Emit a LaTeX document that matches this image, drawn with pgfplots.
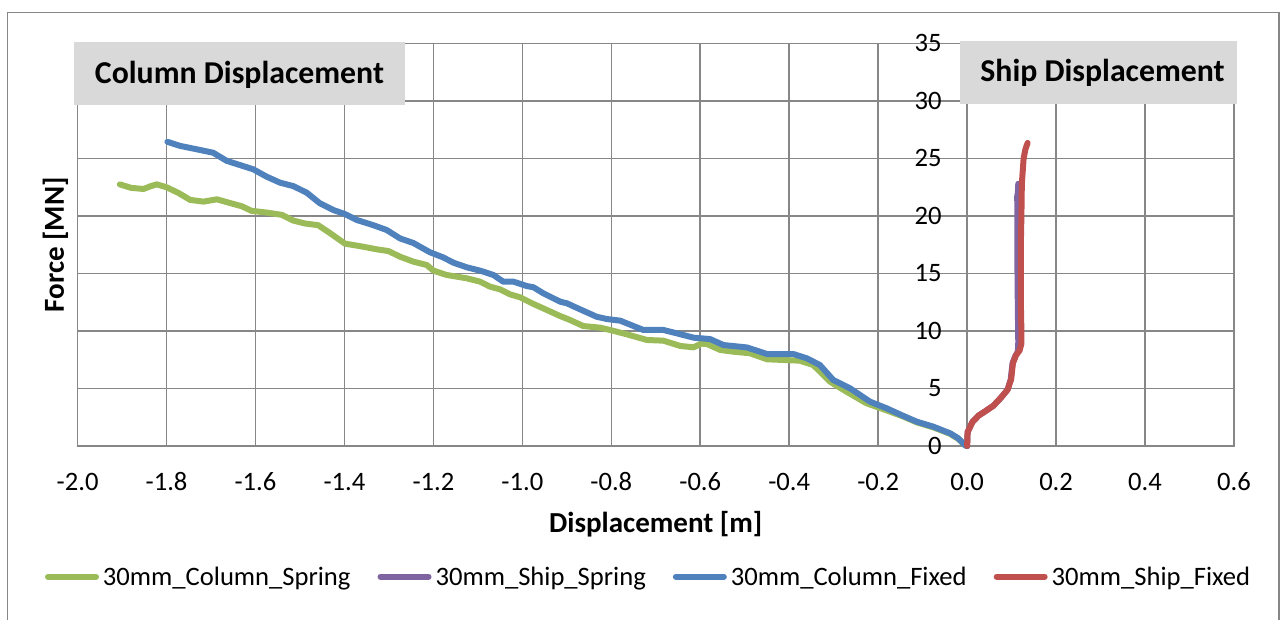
\documentclass[border=0pt]{standalone}
\usepackage{fontspec}
\setmainfont{Carlito}
\usepackage{pgfplots}
\pgfplotsset{compat=1.18}
\definecolor{cgreen}{HTML}{9BBB59}
\definecolor{cpurple}{HTML}{8064A2}
\definecolor{cblue}{HTML}{4F81BD}
\definecolor{cred}{HTML}{C0504D}
\definecolor{cgrid}{HTML}{878787}
\definecolor{cbox}{HTML}{D9D9D9}
\newcommand{\tickfont}{\fontsize{26.6pt}{32pt}\selectfont}
\newcommand{\labfont}{\fontsize{29pt}{34pt}\selectfont\bfseries}
\newcommand{\annfont}{\fontsize{31.8pt}{38pt}\selectfont\bfseries}
\begin{document}
\begin{tikzpicture}
\useasboundingbox (0,0) rectangle (1282pt,619pt);
\draw[cgrid, line width=1.6pt] (7.3pt,-10pt) rectangle (1279pt,606.3pt);
\begin{axis}[
  at={(77.6pt,173pt)}, anchor=south west, scale only axis,
  width=1156.4pt, height=402.5pt,
  xmin=-2, xmax=0.6, ymin=0, ymax=35,
  clip=false,
  xtick={-2,-1.8,-1.6,-1.4,-1.2,-1,-0.8,-0.6,-0.4,-0.2,0,0.2,0.4,0.6},
  xticklabels={-2.0,-1.8,-1.6,-1.4,-1.2,-1.0,-0.8,-0.6,-0.4,-0.2,0.0,0.2,0.4,0.6},
  ytick={0,5,10,15,20,25,30,35},
  yticklabels={0,5,10,15,20,25,30,35},
  grid=major,
  major grid style={cgrid, line width=1.6pt},
  axis line style={cgrid, line width=1.6pt},
  major tick length=0pt,
  tick label style={font=\tickfont, inner sep=0pt, text=black},
  xticklabel style={anchor=base, yshift=-44.7pt},
  yticklabel style={anchor=base east, xshift=864.1pt, yshift=-8.4pt},
  xlabel={Displacement [m]},
  xlabel style={font=\labfont, at={(axis description cs:0.5,-0.2154)}, anchor=base},
  ylabel={Force [MN]},
  ylabel style={font=\labfont, at={(axis description cs:-0.01176,0.5)}, anchor=base, rotate=0},
  every axis plot/.append style={line width=6pt, line cap=round, line join=round},
  legend columns=4,
  legend image code/.code={\draw[#1] (3pt,0pt) -- (51pt,0pt);},
  legend style={draw=none, fill=none, inner sep=0pt, outer sep=0pt,
    font=\tickfont,
    at={(axis description cs:-0.02820,-0.3247)}, anchor=west,
    nodes={inner sep=0pt},
    /tikz/every odd column/.append style={column sep=4pt},
    /tikz/every even column/.append style={column sep=27pt}},
]
\addplot[cgreen] coordinates {
(-1.905,22.75) (-1.880,22.45) (-1.852,22.35) (-1.835,22.6) (-1.822,22.75)
(-1.800,22.5) (-1.773,22.0) (-1.747,21.4) (-1.717,21.25) (-1.687,21.45)
(-1.650,21.05) (-1.631,20.85) (-1.609,20.45) (-1.575,20.3) (-1.541,20.1)
(-1.515,19.6) (-1.489,19.35) (-1.459,19.2) (-1.432,18.5) (-1.399,17.6)
(-1.361,17.35) (-1.327,17.1) (-1.301,16.95) (-1.275,16.46) (-1.245,16.03)
(-1.215,15.74) (-1.200,15.25) (-1.170,14.87) (-1.125,14.58) (-1.095,14.29)
(-1.073,13.86) (-1.050,13.62) (-1.028,13.19) (-1.005,12.93) (-0.975,12.35)
(-0.945,11.83) (-0.915,11.30) (-0.893,10.96) (-0.863,10.43) (-0.825,10.29)
(-0.803,10.09) (-0.765,9.71) (-0.720,9.22) (-0.683,9.16) (-0.645,8.70)
(-0.615,8.58) (-0.598,8.90) (-0.585,8.87) (-0.555,8.35) (-0.525,8.20)
(-0.488,8.06) (-0.450,7.54) (-0.413,7.48) (-0.376,7.42) (-0.346,7.04)
(-0.308,5.59) (-0.271,4.72) (-0.226,3.71) (-0.181,3.10) (-0.143,2.55)
(-0.113,2.05) (-0.076,1.62) (-0.038,1.05) (-0.020,0.62) (-0.004,0.05) (0,0)
};
\addlegendentry{30mm\_Column\_Spring}
\addplot[cpurple] coordinates {
(0,0) (0.001,1.2) (0.012,2.1) (0.026,2.65) (0.040,3.0) (0.059,3.5)
(0.076,4.2) (0.091,4.9) (0.098,5.8) (0.102,7.2) (0.108,7.8) (0.114,8.2)
(0.115,9.0) (0.114,12.0) (0.113,16.0) (0.113,19.0) (0.113,21.2)
(0.112,21.6) (0.114,22.0) (0.115,22.8)
};
\addlegendentry{30mm\_Ship\_Spring}
\addplot[cblue] coordinates {
(-1.798,26.45) (-1.770,26.10) (-1.732,25.80) (-1.695,25.50) (-1.665,24.80)
(-1.635,24.43) (-1.605,24.06) (-1.575,23.42) (-1.545,22.90) (-1.515,22.60)
(-1.485,22.03) (-1.455,21.10) (-1.425,20.52) (-1.399,20.17) (-1.372,19.65)
(-1.335,19.20) (-1.305,18.78) (-1.275,18.05) (-1.245,17.65) (-1.208,16.85)
(-1.178,16.40) (-1.155,15.94) (-1.125,15.54) (-1.095,15.25) (-1.065,14.87)
(-1.043,14.29) (-1.020,14.29) (-0.990,13.91) (-0.975,13.80) (-0.953,13.28)
(-0.915,12.55) (-0.900,12.41) (-0.870,11.88) (-0.833,11.24) (-0.810,11.04)
(-0.780,10.90) (-0.750,10.43) (-0.728,10.09) (-0.683,10.09) (-0.653,9.80)
(-0.615,9.42) (-0.578,9.30) (-0.548,8.78) (-0.495,8.57) (-0.450,8.00)
(-0.391,8.00) (-0.360,7.62) (-0.331,7.04) (-0.301,5.74) (-0.263,5.01)
(-0.218,3.85) (-0.181,3.28) (-0.143,2.61) (-0.113,2.11) (-0.076,1.68)
(-0.038,1.10) (-0.020,0.67) (-0.004,0.05) (0,0)
};
\addlegendentry{30mm\_Column\_Fixed}
\addplot[cred] coordinates {
(0,0) (0.001,1.2) (0.012,2.1) (0.026,2.65) (0.040,3.0) (0.059,3.5)
(0.076,4.2) (0.091,4.9) (0.099,5.8) (0.103,7.2) (0.110,7.9) (0.118,8.3)
(0.122,8.9) (0.122,10.0) (0.121,12.0) (0.121,15.0) (0.121,18.0)
(0.122,20.0) (0.123,22.8) (0.127,25.0) (0.131,25.8) (0.136,26.35)
};
\addlegendentry{30mm\_Ship\_Fixed}
\end{axis}
\node[fill=cbox, minimum width=331pt, minimum height=63.4pt, inner sep=0pt, anchor=south west] at (74pt,513.3pt) {};
\node[anchor=base, font=\annfont, inner sep=0pt] at (239.5pt,535.7pt) {Column Displacement};
\node[fill=cbox, minimum width=276.7pt, minimum height=63.3pt, inner sep=0pt, anchor=south west] at (960pt,514.7pt) {};
\node[anchor=base, font=\annfont, inner sep=0pt] at (1102.5pt,537.3pt) {Ship Displacement};
\end{tikzpicture}
\end{document}
